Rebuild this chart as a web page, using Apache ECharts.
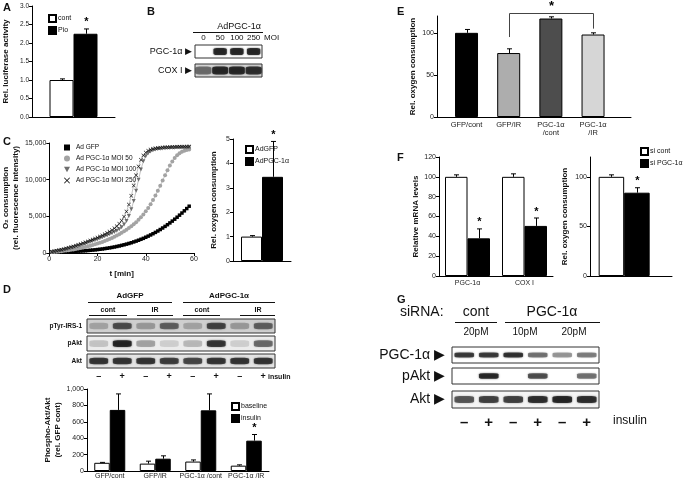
<!DOCTYPE html>
<html><head><meta charset="utf-8">
<script src="https://cdn.jsdelivr.net/npm/echarts@6/dist/echarts.min.js"></script>
<style>html,body{margin:0;padding:0;background:#fff}#c{width:685px;height:481px}</style>
</head><body><div id="c"></div>
<script>
// ---------------- DATA ----------------
// Panel A
const groupA = ['luciferase'];
const contA = [1.0], contErrA = [0.03], contSigA = [''];
const pioA = [2.25], pioErrA = [0.13], pioSigA = ['*'];
// Panel B (blot band intensities, 0..1)
const lanesB = ['0', '50', '100', '250'];
const pgcB = [0.0, 0.95, 0.95, 0.95];
const coxB = [0.55, 0.92, 0.92, 0.88];
// Panel C left (O2 consumption curves)
const timeC = [1,2,3,4,5,6,7,8,9,10,11,12,13,14,15,16,17,18,19,20,21,22,23,24,25,26,27,28,29,30,31,32,33,34,35,36,37,38,39,40,41,42,43,44,45,46,47,48,49,50,51,52,53,54,55,56,57,58];
const gfpC = [100,110,120,130,140,150,170,180,200,210,230,250,270,290,310,340,370,400,430,470,510,550,600,650,700,760,820,890,960,1040,1120,1210,1300,1400,1510,1620,1740,1870,2000,2150,2300,2460,2630,2810,3000,3200,3410,3630,3860,4100,4350,4610,4880,5160,5450,5750,6060,6380];
const moi50C = [120,150,180,210,250,290,330,380,430,490,550,610,680,750,830,910,1000,1090,1190,1290,1400,1510,1630,1760,1900,2050,2210,2380,2560,2750,2950,3170,3400,3650,3920,4210,4530,4880,5260,5680,6150,6660,7220,7830,8480,9170,9880,10590,11280,11920,12480,12950,13320,13600,13800,13940,14040,14100];
const moi100C = [150,200,260,320,390,460,540,620,710,800,900,1000,1100,1200,1310,1420,1530,1650,1770,1890,2010,2140,2270,2400,2540,2690,2850,3030,3250,3520,3880,4380,5050,5950,7100,8500,10000,11400,12500,13200,13600,13850,14000,14100,14170,14220,14260,14290,14310,14330,14350,14360,14370,14380,14390,14400,14400,14410];
const moi250C = [160,220,290,360,440,520,610,700,800,900,1000,1110,1220,1340,1460,1580,1710,1840,1970,2110,2250,2400,2560,2730,2920,3130,3370,3650,4000,4420,4950,5650,6600,7800,9200,10600,11800,12700,13300,13700,13950,14100,14200,14270,14320,14360,14390,14410,14430,14450,14460,14470,14480,14490,14500,14500,14510,14510];
// Panel C right
const groupC2 = ['o2'];
const adGfpC2 = [1.0], adGfpErrC2 = [0.04], adGfpSigC2 = [''];
const adPgcC2 = [3.45], adPgcErrC2 = [1.45], adPgcSigC2 = ['*'];
// Panel D blot
const signsD = ['–','+','–','+','–','+','–','+'];
const pTyrD = [0.25, 0.7, 0.3, 0.6, 0.25, 0.75, 0.3, 0.6];
const pAktD = [0.2, 0.95, 0.35, 0.15, 0.25, 0.85, 0.15, 0.6];
const aktD = [0.85, 0.85, 0.85, 0.8, 0.75, 0.85, 0.85, 0.85];
// Panel D chart
const catsD = ['GFP/cont', 'GFP/IR', 'PGC-1α /cont', 'PGC-1α /IR'];
const baseD = [100, 90, 115, 65], baseErrD = [5, 30, 20, 10];
const insD = [745, 150, 740, 370], insErrD = [195, 35, 200, 75], insSigD = ['', '', '', '*'];
// Panel E
const catsE = ['GFP/cont', 'GFP/IR', 'PGC-1α\n/cont', 'PGC-1α\n/IR'];
const valsE = [100, 76, 117, 98], errE = [4, 5, 2, 2];
const colorsE = ['#000000', '#adadad', '#4d4d4d', '#d6d6d6'];
const bracketE = [2, 4];
// Panel F
const catsF = ['PGC-1α', 'COX I'];
const contF = [100, 100], contErrF = [2, 3];
const siF = [38, 50.5], siErrF = [9.5, 8], siSigF = ['*', '*'];
const contF2 = [100], contErrF2 = [2];
const siF2 = [84], siErrF2 = [5], siSigF2 = ['*'];
// Panel G blot
const concG = ['20pM', '10pM', '20pM'];
const signsG = ['–','+','–','+','–','+'];
const pgcG = [0.85, 0.85, 0.9, 0.6, 0.45, 0.55];
const pAktG = [0.0, 0.95, 0.0, 0.75, 0.0, 0.6];
const aktG = [0.7, 0.8, 0.8, 0.9, 0.95, 0.9];

// ---------------- BUILD ----------------
const FONT = '"Liberation Sans", Arial, Helvetica, sans-serif';
const grids = [], xAxes = [], yAxes = [], series = [], legends = [], graphics = [];
function merge(a, b) {
  const o = Object.assign({}, a);
  for (const k in b) {
    const bv = b[k];
    if (bv && typeof bv === 'object' && !Array.isArray(bv) && typeof bv !== 'function' && a[k] && typeof a[k] === 'object' && !Array.isArray(a[k])) o[k] = merge(a[k], bv);
    else o[k] = bv;
  }
  return o;
}
const VAL = {type: 'value', axisLine: {show: true, lineStyle: {color: '#000', width: 1}}, axisTick: {show: true, length: 3, lineStyle: {color: '#000'}}, splitLine: {show: false}, axisLabel: {fontSize: 7, color: '#222', fontFamily: FONT, margin: 3}, nameLocation: 'middle', nameRotate: 90, nameTextStyle: {fontSize: 8, fontWeight: 'bold', color: '#111', fontFamily: FONT, lineHeight: 10}};
const CAT = {type: 'category', axisLine: {show: true, lineStyle: {color: '#000', width: 1}}, axisTick: {show: false}, splitLine: {show: false}, axisLabel: {fontSize: 7, color: '#222', fontFamily: FONT, margin: 3}};
const HIDDENX = {type: 'value', axisLine: {show: true, lineStyle: {color: '#000', width: 1}}, axisTick: {show: false}, axisLabel: {show: false}, splitLine: {show: false}};
function addGrid(g, xa, ya) {
  grids.push(g); const i = grids.length - 1;
  xAxes.push(Object.assign({gridIndex: i}, xa)); yAxes.push(Object.assign({gridIndex: i}, ya));
  return i;
}
function bars(gi, name, vals, color, w, extra) {
  series.push(merge({type: 'bar', name, xAxisIndex: gi, yAxisIndex: gi, data: vals, barWidth: w, barGap: '0%', itemStyle: {color, borderColor: '#000', borderWidth: 1}, silent: true, z: 2}, extra || {}));
}
function errs(gi, xs, vals, es, sigs, off) {
  series.push({type: 'custom', xAxisIndex: gi, yAxisIndex: gi, clip: false, silent: true, z: 10,
    data: vals.map((v, i) => [xs[i], v, es[i], sigs && sigs[i] === '*' ? 1 : 0]),
    renderItem: (p, api) => {
      const x = api.value(0), v = api.value(1), e = api.value(2);
      const p0 = api.coord([x, v]), p1 = api.coord([x, v + e]);
      const cx = Math.round(p0[0] + off) + 0.5;
      const ch = [
        {type: 'line', shape: {x1: cx, y1: p0[1], x2: cx, y2: p1[1]}, style: {stroke: '#000', lineWidth: 1}},
        {type: 'line', shape: {x1: cx - 2.5, y1: p1[1], x2: cx + 2.5, y2: p1[1]}, style: {stroke: '#000', lineWidth: 1}}];
      if (api.value(3)) ch.push({type: 'text', x: cx, y: p1[1] - 1, style: {text: '*', font: 'bold 11px ' + FONT, fill: '#000', align: 'center', verticalAlign: 'bottom', textAlign: 'center', textVerticalAlign: 'bottom'}});
      return {type: 'group', children: ch};
    }});
}
function blotRow(box, n, rowLabel, intens, o) {
  const gi = grids.length;
  grids.push({left: box[0], top: box[1], width: box[2], height: box[3], show: true, borderColor: '#333', borderWidth: 1, backgroundColor: o.bg || '#fff'});
  const lanes = []; for (let i = 0; i < n; i++) lanes.push(String(i));
  xAxes.push({gridIndex: gi, type: 'category', data: lanes, position: o.xPos || 'bottom', axisLine: {show: false}, axisTick: {show: false}, splitLine: {show: false},
    axisLabel: {show: !!o.xLabels, interval: 0, formatter: (v, i) => o.xLabels ? o.xLabels[i] : '', margin: o.xMargin || 3, fontSize: o.xFont || 7, fontFamily: FONT, color: '#111', fontWeight: o.xBold ? 'bold' : 'normal'}});
  yAxes.push({gridIndex: gi, type: 'category', data: [rowLabel], axisLine: {show: false}, axisTick: {show: false}, splitLine: {show: false},
    axisLabel: {formatter: v => v + (o.arrow ? ' ▶' : ''), fontSize: o.yFont || 7, margin: o.yMargin || 4, fontFamily: FONT, color: '#111', fontWeight: o.yBold ? 'bold' : 'normal'}});
  const bw = box[2] / n * (o.bandW || 0.8), bh = box[3] * (o.bandH || 0.45);
  series.push({type: 'scatter', xAxisIndex: gi, yAxisIndex: gi, silent: true, symbol: 'roundRect', symbolSize: [bw, bh],
    data: intens.map((v, i) => ({value: [i, 0, v], itemStyle: {color: 'rgba(12,12,12,' + v + ')', shadowBlur: 2, shadowColor: 'rgba(12,12,12,' + (v * 0.8) + ')'}}))});
}
function txt(x, y, t, font, align) {
  graphics.push({type: 'text', x, y, silent: true, style: {text: t, font, fill: '#111', align: align || 'left', verticalAlign: 'middle', textAlign: align || 'left', textVerticalAlign: 'middle'}});
}
function hline(x1, x2, y, c) {
  graphics.push({type: 'line', silent: true, shape: {x1, y1: y + 0.5, x2, y2: y + 0.5}, style: {stroke: c || '#111', lineWidth: 1}});
}
const LEG = {orient: 'vertical', itemWidth: 7, itemHeight: 7, itemGap: 3, selectedMode: false, icon: 'rect', textStyle: {fontSize: 7, color: '#111', fontFamily: FONT, padding: [0, 0, 0, -3]}};

// ---- A
let g = addGrid({left: 32, top: 6, width: 83, height: 111},
  merge(CAT, {data: groupA, axisLabel: {show: false}}),
  merge(VAL, {min: 0, max: 3, interval: 0.5, name: 'Rel. luciferase activity', nameGap: 21, axisLabel: {formatter: v => v.toFixed(1), fontSize: 6.5}}));
bars(g, 'cont', contA, '#fff', 24); bars(g, 'Pio', pioA, '#000', 24);
errs(g, [0], contA, contErrA, contSigA, -12); errs(g, [0], pioA, pioErrA, pioSigA, 12);
legends.push(merge(LEG, {left: 43, top: 9, data: ['cont', 'Pio']}));
txt(3, 8, 'A', 'bold 11px ' + FONT);

// ---- B blot
blotRow([195, 45, 67, 13], 4, 'PGC-1α', pgcB, {arrow: true, xLabels: lanesB, xPos: 'top', xMargin: 3, xFont: 8, yFont: 9, yMargin: 3, bandH: 0.55});
blotRow([195, 64, 67, 13], 4, 'COX I', coxB, {arrow: true, yFont: 9, yMargin: 3, bg: '#d8d8d8', bandH: 0.6, bandW: 0.95});
txt(147, 12, 'B', 'bold 11px ' + FONT);
txt(239, 27, 'AdPGC-1α', '9px ' + FONT, 'center');
hline(193, 263, 32);
txt(264, 38, 'MOI', '8px ' + FONT);

// ---- C left
g = addGrid({left: 41, top: 143, width: 153, height: 110},
  merge(VAL, {min: 0, max: 60, interval: 20, name: 't [min]', nameRotate: 0, nameGap: 16}),
  merge(VAL, {min: 0, max: 15000, interval: 5000, name: 'O₂ consumption\n(rel. fluorescence intensity)', nameGap: 22}));
const triPath = 'path://M0,0L10,0L5,9Z';
const xPath = 'path://M0,1L1,0L5,4L9,0L10,1L6,5L10,9L9,10L5,6L1,10L0,9L4,5Z';
function curve(name, vals, color, symbol, size) {
  series.push({type: 'line', name, xAxisIndex: g, yAxisIndex: g, silent: true, data: timeC.map((t, i) => [t, vals[i]]), symbol, symbolSize: size, showSymbol: true,
    itemStyle: {color}, lineStyle: {color: '#999', width: 0.6}, z: 3});
}
curve('Ad GFP', gfpC, '#000', 'rect', 3.5);
curve('Ad PGC-1α MOI 50', moi50C, '#a3a3a3', 'circle', 4);
curve('Ad PGC-1α MOI 100', moi100C, '#6e6e6e', triPath, 4);
curve('Ad PGC-1α MOI 250', moi250C, '#111', xPath, 4);
legends.push(merge(LEG, {left: 59, top: 139, itemGap: 4, itemWidth: 6, itemHeight: 6, textStyle: {fontSize: 6.5, padding: [0, 0, 0, 1]},
  data: [{name: 'Ad GFP', icon: 'rect'}, {name: 'Ad PGC-1α MOI 50', icon: 'circle'}, {name: 'Ad PGC-1α MOI 100', icon: triPath}, {name: 'Ad PGC-1α MOI 250', icon: xPath}]}));
txt(3, 142, 'C', 'bold 11px ' + FONT);

// ---- C right
g = addGrid({left: 233, top: 139, width: 58, height: 122},
  merge(CAT, {data: groupC2, axisLabel: {show: false}}),
  merge(VAL, {min: 0, max: 5, interval: 1, name: 'Rel. oxygen consumption', nameGap: 14}));
bars(g, 'AdGFP', adGfpC2, '#fff', 21); bars(g, 'AdPGC-1α', adPgcC2, '#000', 21);
errs(g, [0], adGfpC2, adGfpErrC2, adGfpSigC2, -10.5); errs(g, [0], adPgcC2, adPgcErrC2, adPgcSigC2, 10.5);
legends.push(merge(LEG, {left: 240, top: 140, z: 20, data: ['AdGFP', 'AdPGC-1α']}));

// ---- D blot
blotRow([87, 319, 188, 14], 8, 'pTyr-IRS-1', pTyrD, {yFont: 6.5, yBold: true, yMargin: 5, bg: '#cfcfcf', bandH: 0.45});
blotRow([87, 336, 188, 15], 8, 'pAkt', pAktD, {yFont: 6.5, yBold: true, yMargin: 5, bg: '#ececec', bandH: 0.45});
blotRow([87, 354, 188, 14], 8, 'Akt', aktD, {yFont: 6.5, yBold: true, yMargin: 5, bg: '#e4e4e4', bandH: 0.45, xLabels: signsD, xBold: true, xFont: 9, xMargin: 4});
txt(3, 290, 'D', 'bold 11px ' + FONT);
txt(130, 296, 'AdGFP', 'bold 8px ' + FONT, 'center'); hline(88, 172, 302);
txt(229, 296, 'AdPGC-1α', 'bold 8px ' + FONT, 'center'); hline(183, 275, 302);
txt(108, 310, 'cont', 'bold 7px ' + FONT, 'center'); hline(89, 127, 315);
txt(155, 310, 'IR', 'bold 7px ' + FONT, 'center'); hline(137, 173, 315);
txt(202, 310, 'cont', 'bold 7px ' + FONT, 'center'); hline(183, 220, 315);
txt(258, 310, 'IR', 'bold 7px ' + FONT, 'center'); hline(240, 275, 315);
txt(268, 377, 'insulin', 'bold 7px ' + FONT);

// ---- D chart
g = addGrid({left: 87, top: 389, width: 182, height: 82},
  merge(CAT, {data: catsD, axisLabel: {margin: 2, interval: 0}}),
  merge(VAL, {min: 0, max: 1000, interval: 200, name: 'Phospho-Akt/Akt\n(rel. GFP cont)', nameGap: 24}));
bars(g, 'baseline', baseD, '#fff', 15.5); bars(g, 'insulin', insD, '#000', 15.5);
errs(g, [0, 1, 2, 3], baseD, baseErrD, null, -7.75); errs(g, [0, 1, 2, 3], insD, insErrD, insSigD, 7.75);
legends.push(merge(LEG, {left: 226, top: 397, data: ['baseline', 'insulin']}));

// ---- E
g = addGrid({left: 437, top: 16, width: 194, height: 101},
  merge(HIDDENX, {min: 0.3, max: 4.9}),
  merge(VAL, {min: 0, max: 120, interval: 50, name: 'Rel. oxygen consumption', nameGap: 19, axisLabel: {showMaxLabel: false}}));
series.push({type: 'bar', xAxisIndex: g, yAxisIndex: g, silent: true, barWidth: 23,
  label: {show: true, position: 'bottom', distance: 4, formatter: p => catsE[p.dataIndex], fontSize: 7.5, lineHeight: 8, color: '#222', fontFamily: FONT},
  data: valsE.map((v, i) => ({value: [i + 1, v], itemStyle: {color: colorsE[i], borderColor: '#000', borderWidth: 1}}))});
errs(g, [1, 2, 3, 4], valsE, errE, null, 0);
series.push({type: 'custom', xAxisIndex: g, yAxisIndex: g, clip: false, silent: true, z: 10, data: [bracketE],
  renderItem: (p, api) => {
    const a = api.value(0), b = api.value(1);
    const xl = Math.round(api.coord([a, 0])[0]) + 0.5, xr = Math.round(api.coord([b, 0])[0]) + 0.5;
    const yl = api.coord([a, valsE[a - 1] + errE[a - 1] + 14])[1];
    const yr = api.coord([b, valsE[b - 1] + errE[b - 1] + 5])[1];
    const yt = Math.round(api.coord([a, 123])[1]) + 0.5;
    return {type: 'group', children: [
      {type: 'polyline', shape: {points: [[xl, yl], [xl, yt], [xr, yt], [xr, yr]]}, style: {stroke: '#444', lineWidth: 1, fill: null}},
      {type: 'text', x: (xl + xr) / 2, y: yt - 1, style: {text: '*', font: 'bold 13px ' + FONT, fill: '#000', align: 'center', verticalAlign: 'bottom', textAlign: 'center', textVerticalAlign: 'bottom'}}]};
  }});
txt(397, 12, 'E', 'bold 11px ' + FONT);

// ---- F left
g = addGrid({left: 439, top: 157, width: 114, height: 119},
  merge(CAT, {data: catsF, axisLabel: {margin: 4}}),
  merge(VAL, {min: 0, max: 120, interval: 20, name: 'Relative mRNA levels', nameGap: 18}));
bars(g, 'si cont', contF, '#fff', 22.5); bars(g, 'si PGC-1α', siF, '#000', 22.5);
errs(g, [0, 1], contF, contErrF, null, -11.25); errs(g, [0, 1], siF, siErrF, siSigF, 11.25);
txt(397, 158, 'F', 'bold 11px ' + FONT);

// ---- F right
g = addGrid({left: 590, top: 157, width: 82, height: 119},
  merge(HIDDENX, {min: 0, max: 2.4}),
  merge(VAL, {min: 0, max: 120, interval: 50, name: 'Rel. oxygen consumption', nameGap: 20, axisLabel: {showMaxLabel: false}}));
bars(g, 'si cont', [[1, contF2[0]]], '#fff', 25.5); bars(g, 'si PGC-1α', [[1, siF2[0]]], '#000', 25.5);
errs(g, [1], contF2, contErrF2, null, -12.75); errs(g, [1], siF2, siErrF2, siSigF2, 12.75);
legends.push(merge(LEG, {left: 635, top: 142, data: ['si cont', 'si PGC-1α']}));

// ---- G blot
blotRow([452, 347, 147, 16], 6, 'PGC-1α', pgcG, {arrow: true, yFont: 14, yMargin: 7, bandH: 0.3});
blotRow([452, 368, 147, 16], 6, 'pAkt', pAktG, {arrow: true, yFont: 14, yMargin: 7, bandH: 0.35});
blotRow([452, 391, 147, 17], 6, 'Akt', aktG, {arrow: true, yFont: 14, yMargin: 7, bandH: 0.4, bg: '#f4f4f4', xLabels: signsG, xBold: true, xFont: 15, xMargin: 7});
txt(397, 300, 'G', 'bold 11px ' + FONT);
txt(400, 312, 'siRNA:', '14px ' + FONT);
txt(476, 312, 'cont', '14px ' + FONT, 'center'); hline(455, 497, 322);
txt(552, 312, 'PGC-1α', '14px ' + FONT, 'center'); hline(505, 600, 322);
txt(476, 332, concG[0], '10px ' + FONT, 'center');
txt(525, 332, concG[1], '10px ' + FONT, 'center');
txt(574, 332, concG[2], '10px ' + FONT, 'center');
txt(613, 421, 'insulin', '12px ' + FONT);

const chart = echarts.init(document.getElementById('c'), null, {renderer: 'canvas'});
chart.setOption({animation: false, backgroundColor: '#fff', textStyle: {fontFamily: FONT},
  grid: grids, xAxis: xAxes, yAxis: yAxes, series, legend: legends, graphic: graphics});
</script></body></html>
